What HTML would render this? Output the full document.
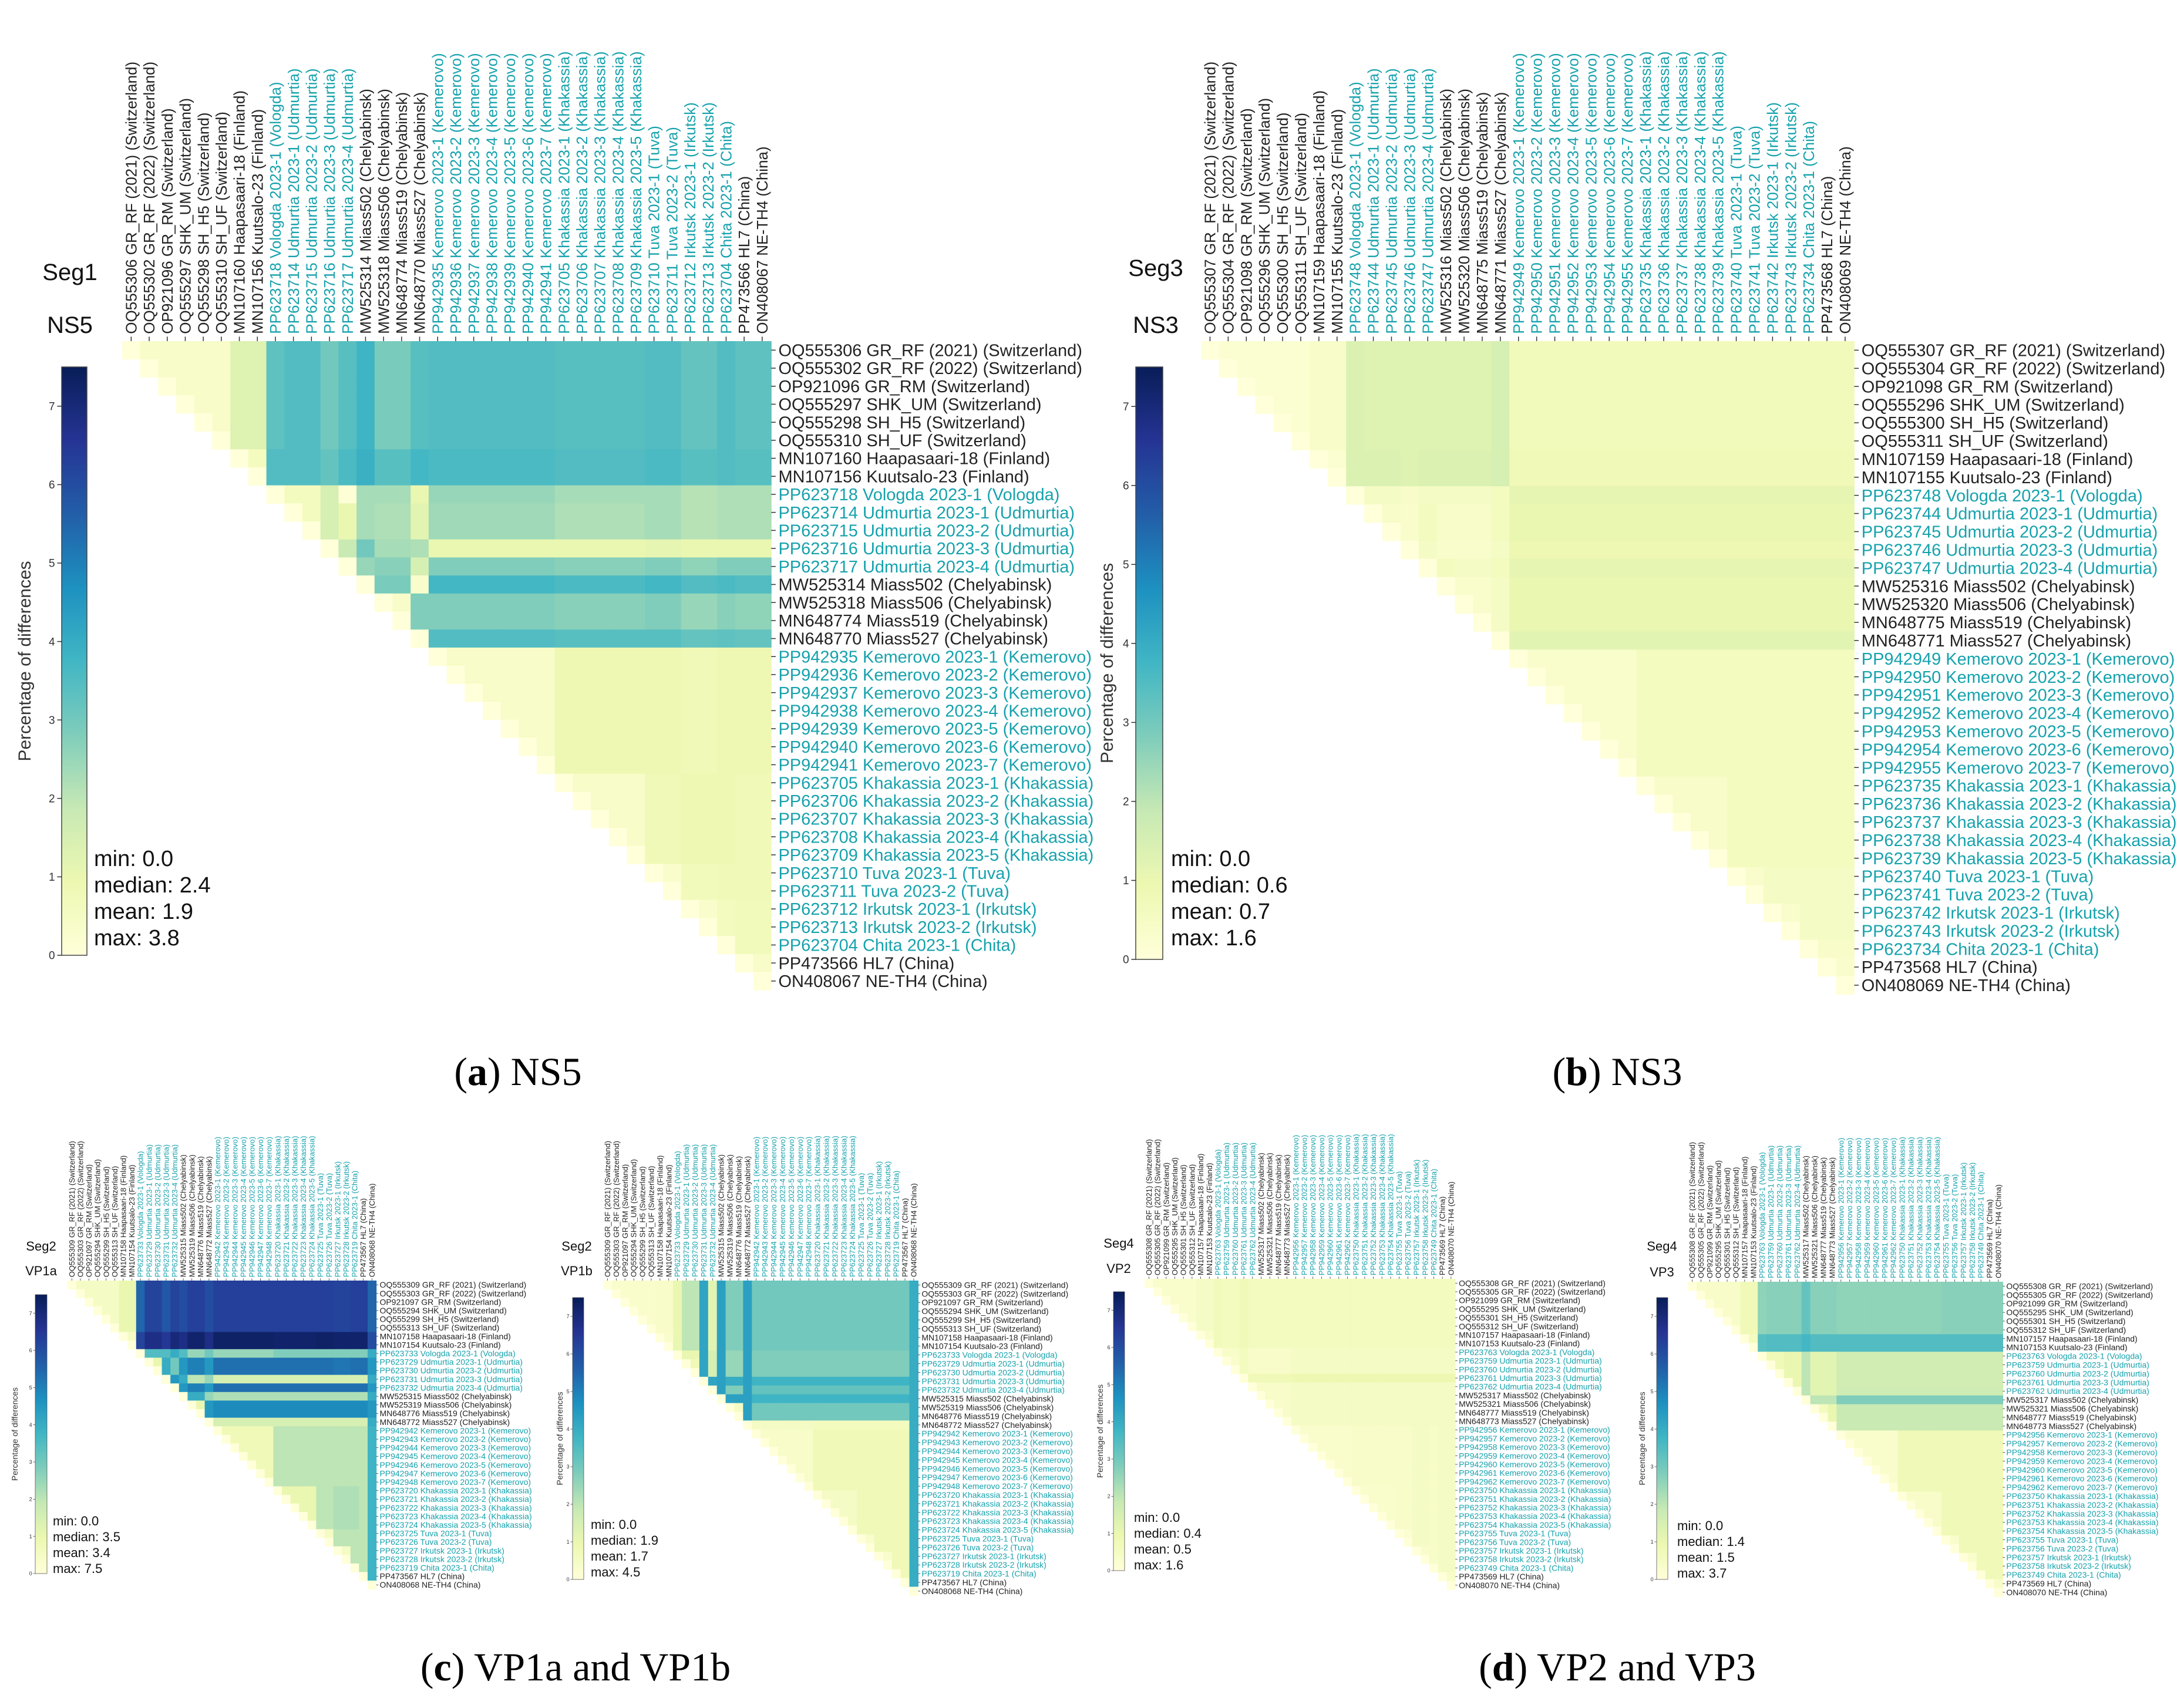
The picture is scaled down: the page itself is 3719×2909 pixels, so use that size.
<!DOCTYPE html>
<html><head><meta charset="utf-8">
<style>
html,body{margin:0;padding:0;background:#fff;}
svg{display:block;}
text{font-family:"Liberation Sans",sans-serif;}
.cap{font-family:"Liberation Serif",serif;}
</style></head>
<body>
<svg id="fig" width="3719" height="2909" viewBox="0 0 3719 2909" xmlns="http://www.w3.org/2000/svg">
<defs>
<linearGradient id="ylgnbu" x1="0" y1="1" x2="0" y2="0">
<stop offset="0" stop-color="#ffffd9"/><stop offset="0.125" stop-color="#edf8b1"/><stop offset="0.25" stop-color="#c7e9b4"/><stop offset="0.375" stop-color="#7fcdbb"/><stop offset="0.5" stop-color="#41b6c4"/><stop offset="0.625" stop-color="#1d91c0"/><stop offset="0.75" stop-color="#225ea8"/><stop offset="0.875" stop-color="#253494"/><stop offset="1" stop-color="#081d58"/>
</linearGradient>
</defs>
<text class="cap" x="882" y="1848" font-size="68" text-anchor="middle">(<tspan font-weight="bold">a</tspan>) NS5</text>
<text class="cap" x="2754" y="1848" font-size="68" text-anchor="middle">(<tspan font-weight="bold">b</tspan>) NS3</text>
<text class="cap" x="980" y="2862" font-size="68" text-anchor="middle">(<tspan font-weight="bold">c</tspan>) VP1a and VP1b</text>
<text class="cap" x="2754" y="2862" font-size="68" text-anchor="middle">(<tspan font-weight="bold">d</tspan>) VP2 and VP3</text>
</svg>
<script>
// ---- data ----
const strainNames = ["GR_RF (2021) (Switzerland)","GR_RF (2022) (Switzerland)","GR_RM (Switzerland)","SHK_UM (Switzerland)","SH_H5 (Switzerland)","SH_UF (Switzerland)","Haapasaari-18 (Finland)","Kuutsalo-23 (Finland)","Vologda 2023-1 (Vologda)","Udmurtia 2023-1 (Udmurtia)","Udmurtia 2023-2 (Udmurtia)","Udmurtia 2023-3 (Udmurtia)","Udmurtia 2023-4 (Udmurtia)","Miass502 (Chelyabinsk)","Miass506 (Chelyabinsk)","Miass519 (Chelyabinsk)","Miass527 (Chelyabinsk)","Kemerovo 2023-1 (Kemerovo)","Kemerovo 2023-2 (Kemerovo)","Kemerovo 2023-3 (Kemerovo)","Kemerovo 2023-4 (Kemerovo)","Kemerovo 2023-5 (Kemerovo)","Kemerovo 2023-6 (Kemerovo)","Kemerovo 2023-7 (Kemerovo)","Khakassia 2023-1 (Khakassia)","Khakassia 2023-2 (Khakassia)","Khakassia 2023-3 (Khakassia)","Khakassia 2023-4 (Khakassia)","Khakassia 2023-5 (Khakassia)","Tuva 2023-1 (Tuva)","Tuva 2023-2 (Tuva)","Irkutsk 2023-1 (Irkutsk)","Irkutsk 2023-2 (Irkutsk)","Chita 2023-1 (Chita)","HL7 (China)","NE-TH4 (China)"];
const strainTeal = [0,0,0,0,0,0,0,0,1,1,1,1,1,0,0,0,0,1,1,1,1,1,1,1,1,1,1,1,1,1,1,1,1,1,0,0];
const strainGroup = [0,0,0,0,0,0,1,1,2,3,3,4,5,6,7,7,8,9,9,9,9,9,9,9,10,10,10,10,10,11,11,12,12,13,14,15];
const idsNS5 = ["OQ555306","OQ555302","OP921096","OQ555297","OQ555298","OQ555310","MN107160","MN107156","PP623718","PP623714","PP623715","PP623716","PP623717","MW525314","MW525318","MN648774","MN648770","PP942935","PP942936","PP942937","PP942938","PP942939","PP942940","PP942941","PP623705","PP623706","PP623707","PP623708","PP623709","PP623710","PP623711","PP623712","PP623713","PP623704","PP473566","ON408067"];
const idsNS3 = ["OQ555307","OQ555304","OP921098","OQ555296","OQ555300","OQ555311","MN107159","MN107155","PP623748","PP623744","PP623745","PP623746","PP623747","MW525316","MW525320","MN648775","MN648771","PP942949","PP942950","PP942951","PP942952","PP942953","PP942954","PP942955","PP623735","PP623736","PP623737","PP623738","PP623739","PP623740","PP623741","PP623742","PP623743","PP623734","PP473568","ON408069"];
const idsVP1 = ["OQ555309","OQ555303","OP921097","OQ555294","OQ555299","OQ555313","MN107158","MN107154","PP623733","PP623729","PP623730","PP623731","PP623732","MW525315","MW525319","MN648776","MN648772","PP942942","PP942943","PP942944","PP942945","PP942946","PP942947","PP942948","PP623720","PP623721","PP623722","PP623723","PP623724","PP623725","PP623726","PP623727","PP623728","PP623719","PP473567","ON408068"];
const idsVP23 = ["OQ555308","OQ555305","OP921099","OQ555295","OQ555301","OQ555312","MN107157","MN107153","PP623763","PP623759","PP623760","PP623761","PP623762","MW525317","MW525321","MN648777","MN648773","PP942956","PP942957","PP942958","PP942959","PP942960","PP942961","PP942962","PP623750","PP623751","PP623752","PP623753","PP623754","PP623755","PP623756","PP623757","PP623758","PP623749","PP473569","ON408070"];
// group-by-group percentage differences (upper triangle rows)
const distNS5 = [
[0.4,1.3,3.3,3.5,3.0,3.4,3.8,2.9,3.4,3.5,3.4,3.5,3.2,3.5,3.3,3.3],
[0.6,3.5,3.5,3.2,3.6,3.9,3.4,3.7,3.6,3.5,3.6,3.4,3.5,3.4,3.4],
[0,0.6,1.5,0.1,2.3,2.3,1.0,2.5,2.3,2.3,2.1,2.2,2.2,2.2],
[0.6,1.5,1.0,2.3,2.2,1.2,2.4,2.2,2.3,2.1,2.2,2.2,2.2],
[0,1.8,3.0,2.3,2.2,1.0,1.0,1.1,1.0,1.0,1.0,1.0],
[0,2.5,2.7,1.5,2.8,2.7,2.8,2.6,2.8,2.8,2.8],
[0,2.9,0.3,3.7,3.6,3.7,3.5,3.6,3.5,3.5],
[0.4,2.8,2.8,2.7,2.8,2.5,2.7,2.6,2.6],
[0,3.5,3.4,3.4,3.2,3.3,3.2,3.2],
[0.4,0.9,0.9,0.8,0.9,0.9,0.9],
[0.4,0.8,0.9,0.9,0.8,0.8],
[0.3,0.7,0.8,0.8,0.8],
[0.3,0.6,0.7,0.7],
[0,0.7,0.7],
[0,0.4],
[0]];
const distNS3 = [
[0.2,0.4,1.4,1.3,1.3,1.3,1.3,1.3,1.5,0.7,0.7,0.7,0.7,0.7,0.7,0.7],
[0.2,1.4,1.4,1.3,1.4,1.4,1.4,1.5,0.8,0.8,0.8,0.8,0.8,0.8,0.8],
[0,0.5,0.4,0.5,0.5,0.5,0.6,1.1,1.1,1.1,1.1,1.1,1.1,1.1],
[0.4,0.3,0.6,0.4,0.4,0.6,1.0,1.0,1.0,1.0,1.0,1.0,1.0],
[0,0.5,0.3,0.3,0.5,0.9,0.9,0.9,0.9,0.9,0.9,0.9],
[0,0.6,0.5,0.6,1.1,1.1,1.1,1.1,1.1,1.1,1.1],
[0,0.3,0.5,1.0,1.0,1.0,1.0,1.0,1.0,1.0],
[0.3,0.5,1.0,1.0,1.0,1.0,1.0,1.0,1.0],
[0,1.2,1.2,1.2,1.2,1.2,1.2,1.2],
[0.3,0.6,0.6,0.6,0.6,0.6,0.6],
[0.4,0.6,0.6,0.6,0.6,0.6],
[0.3,0.5,0.5,0.5,0.5],
[0.3,0.5,0.5,0.5],
[0,0.4,0.4],
[0,0.3],
[0]];
const distVP1a = [
[0.5,1.0,5.5,6.2,5.8,6.2,6.0,6.3,6.0,6.3,6.3,6.3,6.2,6.3,6.3,5.5],
[0.5,6.2,6.8,6.5,7.0,6.8,7.2,6.8,7.3,7.2,7.3,7.2,7.2,7.2,6.0],
[0,3.5,3.5,4.0,3.5,2.5,3.0,2.5,2.8,2.8,2.8,2.8,2.8,4.0],
[1.0,4.0,3.0,4.5,5.0,4.5,5.3,5.3,5.3,5.2,5.3,5.3,4.5],
[0,4.5,4.0,2.0,2.5,1.5,1.5,1.5,1.5,1.5,1.5,4.0],
[0,4.5,5.0,4.5,5.3,5.3,5.3,5.3,5.3,5.3,4.5],
[0,4.0,2.5,2.2,2.2,2.2,2.2,2.2,2.2,4.0],
[1.0,4.5,4.8,4.8,4.8,4.8,4.8,4.8,4.5],
[0,1.5,1.5,1.5,1.5,1.5,1.5,4.0],
[0.8,2.0,2.0,2.0,2.0,2.0,3.8],
[1.0,2.0,2.2,2.2,2.0,3.8],
[0.5,2.0,2.0,2.0,3.8],
[0.5,2.0,2.0,3.8],
[0,2.0,3.8],
[0,3.8],
[0]];
const distVP1b = [
[0.3,0.4,1.0,2.0,4.2,1.2,4.3,2.8,4.3,3.0,3.0,3.0,3.0,3.0,3.0,4.0],
[0.3,1.0,2.0,4.2,1.2,4.3,2.8,4.3,3.0,3.0,3.0,3.0,3.0,3.0,4.0],
[0,1.0,4.2,1.5,4.3,2.5,4.3,2.8,2.8,2.8,2.8,2.8,2.8,4.0],
[0.8,4.2,1.5,4.3,2.5,4.3,2.8,2.8,2.8,2.8,2.8,2.8,4.0],
[0,4.2,4.3,4.0,4.3,3.8,3.8,3.8,3.8,3.8,3.8,4.0],
[0,4.3,2.8,4.3,3.2,3.2,3.2,3.2,3.2,3.2,4.0],
[0,4.3,4.3,3.8,3.8,3.8,3.8,3.8,3.8,4.0],
[0.5,4.3,3.0,3.0,3.0,3.0,3.0,3.0,4.0],
[0,0.5,0.6,0.6,0.6,0.6,0.6,4.0],
[0.4,0.8,0.8,0.8,0.8,0.8,4.0],
[0.5,0.8,0.8,0.8,0.8,4.0],
[0.3,0.8,0.8,0.8,4.0],
[0.3,0.8,0.8,4.0],
[0,0.8,4.0],
[0,4.0],
[0]];
const distVP2 = [
[0.3,0.5,0.7,0.6,0.8,0.6,0.6,0.6,0.6,0.6,0.6,0.6,0.6,0.6,0.6,0.6],
[0.3,0.7,0.6,0.8,0.6,0.6,0.6,0.6,0.6,0.6,0.6,0.6,0.6,0.6,0.6],
[0,0.4,0.6,0.4,0.4,0.4,0.4,0.5,0.5,0.5,0.5,0.5,0.5,0.5],
[0.3,0.6,0.4,0.4,0.4,0.4,0.5,0.5,0.5,0.5,0.5,0.5,0.5],
[0,0.8,0.8,0.8,0.8,0.9,0.9,0.9,0.9,0.9,0.9,0.9],
[0,0.4,0.4,0.4,0.5,0.5,0.5,0.5,0.5,0.5,0.5],
[0,0.4,0.4,0.5,0.5,0.5,0.5,0.5,0.5,0.5],
[0.3,0.4,0.5,0.5,0.5,0.5,0.5,0.5,0.5],
[0,0.5,0.5,0.5,0.5,0.5,0.5,0.5],
[0.3,0.4,0.4,0.5,0.4,0.5,0.5],
[0.3,0.4,0.5,0.4,0.5,0.5],
[0.2,0.5,0.4,0.5,0.5],
[0.3,0.4,0.5,0.5],
[0,0.5,0.5],
[0,0.4],
[0]];
const distVP3 = [
[0.4,0.8,2.6,2.7,2.7,2.7,3.2,2.7,2.7,2.6,2.6,2.7,2.7,2.7,2.7,2.7],
[0.6,3.4,3.5,3.5,3.5,3.7,3.5,3.5,3.5,3.5,3.5,3.5,3.5,3.5,3.5],
[0,0.8,1.0,1.0,2.0,1.2,1.2,1.6,1.6,1.6,1.6,1.6,1.6,1.6],
[0.8,1.0,1.0,2.0,1.2,1.2,1.6,1.6,1.6,1.6,1.6,1.6,1.6],
[0,1.0,2.0,1.2,1.2,1.6,1.6,1.6,1.6,1.6,1.6,1.6],
[0,2.0,1.2,1.2,1.7,1.7,1.7,1.7,1.7,1.7,1.7],
[0,2.0,2.0,2.8,2.8,2.8,2.8,2.8,2.8,2.8],
[0.6,1.0,1.8,1.8,1.8,1.8,1.8,1.8,1.8],
[0,1.8,1.8,1.8,1.8,1.8,1.8,1.8],
[0.3,0.8,0.8,0.8,0.8,0.8,0.8],
[0.4,0.8,0.8,0.8,0.8,0.8],
[0.3,0.8,0.8,0.8,0.8],
[0.3,0.8,0.8,0.8],
[0,0.8,0.8],
[0,0.4],
[0]];
const statsNS5 = ["min: 0.0","median: 2.4","mean: 1.9","max: 3.8"];
const statsNS3 = ["min: 0.0","median: 0.6","mean: 0.7","max: 1.6"];
const statsVP1a = ["min: 0.0","median: 3.5","mean: 3.4","max: 7.5"];
const statsVP1b = ["min: 0.0","median: 1.9","mean: 1.7","max: 4.5"];
const statsVP2 = ["min: 0.0","median: 0.4","mean: 0.5","max: 1.6"];
const statsVP3 = ["min: 0.0","median: 1.4","mean: 1.5","max: 3.7"];
const colorbarTicks = [0,1,2,3,4,5,6,7];
const vmax = 7.5;

// ---- colour scale ----
const stops = ["#ffffd9","#edf8b1","#c7e9b4","#7fcdbb","#41b6c4","#1d91c0","#225ea8","#253494","#081d58"];
function hex(h){return [parseInt(h.slice(1,3),16),parseInt(h.slice(3,5),16),parseInt(h.slice(5,7),16)];}
function colorScale(v){
  let t=Math.max(0,Math.min(1,v/vmax))*(stops.length-1);
  let i=Math.min(Math.floor(t),stops.length-2), f=t-i;
  let a=hex(stops[i]), b=hex(stops[i+1]);
  return "rgb("+a.map((x,k)=>Math.round(x+(b[k]-x)*f)).join(",")+")";
}
function groupDist(M,g,h){ if(g>h){const t=g;g=h;h=t;} return M[g][h-g]; }

const NS="http://www.w3.org/2000/svg";
const svg=document.getElementById("fig");
function el(tag,attrs,parent){const e=document.createElementNS(NS,tag);for(const k in attrs)e.setAttribute(k,attrs[k]);(parent||svg).appendChild(e);return e;}

const TEAL="#16a2ad";
const panels=[
 {key:"ns5",ids:idsNS5,dist:distNS5,stats:statsNS5,seg:"Seg1",gene:"NS5",x0:208,y0:581,c:30.7,fr:29,fc:26,cbX:105,cbW:43,cbTop:625,cbBot:1627,tickFs:19,sx:160,sy:1475,sfs:38,slh:45,segX:119,segY:477,geneY:567,segFs:40,axX:52,axFs:30},
 {key:"ns3",ids:idsNS3,dist:distNS3,stats:statsNS3,seg:"Seg3",gene:"NS3",x0:2045,y0:581,c:30.9,fr:29,fc:26,cbX:1934,cbW:46,cbTop:625,cbBot:1634,tickFs:19,sx:1994,sy:1475,sfs:38,slh:45,segX:1968,segY:470,geneY:567,segFs:40,axX:1895,axFs:30},
 {key:"vp1a",ids:idsVP1,dist:distVP1a,stats:statsVP1a,seg:"Seg2",gene:"VP1a",x0:115,y0:2181,c:14.6,fr:14,fc:13,cbX:60,cbW:20,cbTop:2205,cbBot:2680,tickFs:9,sx:90,sy:2598,sfs:22,slh:27,segX:70,segY:2130,geneY:2172,segFs:22,axX:30,axFs:14},
 {key:"vp1b",ids:idsVP1,dist:distVP1b,stats:statsVP1b,seg:"Seg2",gene:"VP1b",x0:1027,y0:2181,c:14.9,fr:14,fc:13,cbX:975,cbW:19,cbTop:2210,cbBot:2690,tickFs:9,sx:1006,sy:2604,sfs:22,slh:27,segX:982,segY:2130,geneY:2172,segFs:22,axX:958,axFs:14},
 {key:"vp2",ids:idsVP23,dist:distVP2,stats:statsVP2,seg:"Seg4",gene:"VP2",x0:1949,y0:2178,c:14.7,fr:14,fc:13,cbX:1896,cbW:19,cbTop:2200,cbBot:2675,tickFs:9,sx:1931,sy:2592,sfs:22,slh:27,segX:1905,segY:2125,geneY:2168,segFs:22,axX:1878,axFs:14},
 {key:"vp3",ids:idsVP23,dist:distVP3,stats:statsVP3,seg:"Seg4",gene:"VP3",x0:2874,y0:2183,c:14.9,fr:14,fc:13,cbX:2821,cbW:19,cbTop:2210,cbBot:2690,tickFs:9,sx:2856,sy:2606,sfs:22,slh:27,segX:2830,segY:2130,geneY:2174,segFs:22,axX:2801,axFs:14}
];

panels.forEach(p=>{
  const g=el("g",{});
  
  
  const n=p.ids.length;
  const xs=j=>p.x0+j*p.c, ys=i=>p.y0+i*p.c;
  for(let i=0;i<n;i++){
    for(let j=i;j<n;j++){
      const v = i===j ? 0 : groupDist(p.dist,strainGroup[i],strainGroup[j]);
      const r=el("rect",{x:xs(j).toFixed(2),y:ys(i).toFixed(2),width:(p.c+0.6).toFixed(2),height:(p.c+0.6).toFixed(2),fill:colorScale(v)},g);
      
      
    }
  }
  const tk=p.c*0.25;
  for(let i=0;i<n;i++){
    const lab=p.ids[i]+" "+strainNames[i];
    const col=strainTeal[i]?TEAL:"#222";
    const cy=ys(i)+p.c/2;
    el("line",{x1:xs(n),y1:cy,x2:xs(n)+tk,y2:cy,stroke:"#333","stroke-width":p.c>20?1.5:0.8},g);
    const t=el("text",{x:xs(n)+tk*1.6,y:cy+p.fr*0.35,"font-size":p.fr,fill:col},g);
    t.textContent=lab;
    
    
    const cx=xs(i)+p.c/2;
    el("line",{x1:cx,y1:p.y0,x2:cx,y2:p.y0-tk,stroke:"#333","stroke-width":p.c>20?1.5:0.8},g);
    const ct=el("text",{x:0,y:0,"font-size":p.fc,fill:col,"text-anchor":"start",transform:"translate("+(cx+p.fc*0.35).toFixed(1)+","+(p.y0-tk*1.6).toFixed(1)+") rotate(-90)"},g);
    ct.textContent=lab;
    
    
  }
  const cb=el("rect",{x:p.cbX,y:p.cbTop,width:p.cbW,height:p.cbBot-p.cbTop,fill:"url(#ylgnbu)",stroke:"#444","stroke-width":p.c>20?1.5:0.7},g);
  
  
  const cbY=v=>p.cbBot-(v/vmax)*(p.cbBot-p.cbTop);
  colorbarTicks.forEach(v=>{
    el("line",{x1:p.cbX,y1:cbY(v),x2:p.cbX-p.tickFs*0.4,y2:cbY(v),stroke:"#333","stroke-width":p.c>20?1.5:0.7},g);
    const t=el("text",{x:p.cbX-p.tickFs*0.6,y:cbY(v)+p.tickFs*0.35,"font-size":p.tickFs,"text-anchor":"end",fill:"#333"},g);
    t.textContent=String(v);
    
    
  });
  const ax=el("text",{x:0,y:0,"font-size":p.axFs,"text-anchor":"middle",fill:"#333",transform:"translate("+p.axX+","+((p.cbTop+p.cbBot)/2)+") rotate(-90)"},g);
  ax.textContent="Percentage of differences";
  
  
  p.stats.forEach((s,k)=>{
    const t=el("text",{x:p.sx,y:p.sy+k*p.slh,"font-size":p.sfs,fill:"#111"},g);
    t.textContent=s;
    
    
  });
  const s1=el("text",{x:p.segX,y:p.segY,"font-size":p.segFs,"text-anchor":"middle",fill:"#111"},g);
  s1.textContent=p.seg;
  
  
  const s2=el("text",{x:p.segX,y:p.geneY,"font-size":p.segFs,"text-anchor":"middle",fill:"#111"},g);
  s2.textContent=p.gene;
  
  
});
</script>
</body></html>
